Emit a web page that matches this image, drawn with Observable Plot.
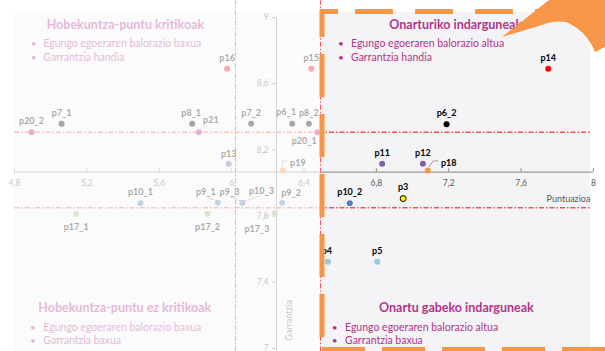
<!DOCTYPE html>
<html><head><meta charset="utf-8">
<script src="https://cdn.jsdelivr.net/npm/d3@7"></script>
<script src="https://cdn.jsdelivr.net/npm/@observablehq/plot@0.6"></script>
<style>
html,body{margin:0;padding:0;background:#fff;}
#chart{width:605px;height:351px;overflow:hidden;position:relative;}
#chart svg{display:block;}
</style></head><body><div id="chart"></div>
<script>
// ---- data ----
const names = ["p20_2","p7_1","p8_1","p21","p16","p7_2","p6_1","p8_2","p15","p20_1","p13","p19","p9_1","p9_3","p10_3","p9_2","p10_1","p17_1","p17_2","p17_3","p6_2","p11","p12","p18","p14","p10_2","p3","p4","p5"];
const puntuazioa = [4.894,5.06,5.782,5.819,5.975,6.108,6.335,6.427,6.44,6.473,5.984,6.283,5.924,6.06,6.06,6.279,5.496,5.141,5.867,6.239,7.188,6.832,7.057,7.084,7.75,6.653,6.948,6.532,6.805];
const garrantzia = [8.307,8.358,8.358,8.307,8.69,8.358,8.358,8.358,8.69,8.307,8.116,8.076,7.88,7.88,7.88,7.88,7.878,7.814,7.814,7.818,8.355,8.116,8.116,8.076,8.69,7.878,7.906,7.524,7.524];
const groups = ["g20","g678","g678","g20","g14","g678","g678","g678","g14","g20","g11","g18","g910","g910","g910","g910","g910","g17","g17","g17","g678","g11","g11","g18","g14","g910","g3","g45","g45"];
const groupNames = ["g20","g678","g14","g11","g18","g910","g17","g3","g45"];
const groupColors = ["#c2186f","#000000","#ff0000","#7f5fa8","#f79646","#4f81bd","#9bbb59","#ffff00","#92cddc"];
const xTicks = [4.8,5.2,5.6,6,6.4,6.8,7.2,7.6,8];
const yTicks = [7,7.4,7.8,8.2,8.6,9];
const xTickLabels = ["4,8","5,2","5,6","6","6,4","6,8","7,2","7,6","8"];
const yTickLabels = ["7","7,4","7,8","8,2","8,6","9"];
const axisCrossY = 8.066;   // horizontal axis crosses at
const axisCrossX = 6.248;   // vertical axis crosses at
const refX = [6.021, 6.491];
const refY = [8.307, 7.85];
const xTitle = "Puntuazioa";
const yTitle = "Garrantzia";
const quadTitles = ["Hobekuntza-puntu kritikoak","Onarturiko indarguneak","Hobekuntza-puntu ez kritikoak","Onartu gabeko indarguneak"];
const quadBullets = [
  ["Egungo egoeraren balorazio baxua","Garrantzia handia"],
  ["Egungo egoeraren balorazio altua","Garrantzia handia"],
  ["Egungo egoeraren balorazio baxua","Garrantzia baxua"],
  ["Egungo egoeraren balorazio altua","Garrantzia baxua"]
];

// ---- styling (label offsets in px) ----
const labelOffset = {
  p20_2:[0,-11],p7_1:[0,-11],p8_1:[-1,-11],p21:[12,-12],p16:[0,-11],p7_2:[0,-11],p6_1:[-6,-12],
  p8_2:[0,-11],p15:[0,-11],p20_1:[-13,9],p13:[0,-10],p19:[15,-7],p9_1:[-12,-11],p9_3:[-13,-11],
  p10_3:[19,-12],p9_2:[9,-10],p10_1:[0,-11],p17_1:[0,13],p17_2:[0,13],p17_3:[-18,16],p6_2:[0,-11],
  p11:[0,-11],p12:[0,-11],p18:[21,-7],p14:[0,-11],p10_2:[0,-11],p3:[0,-11],p4:[-1,-11],p5:[0,-11]
};
const leaders = {
  p21:[[2,-2],[8,-6]], p6_1:[[-1,-2],[-5,-7]], p19:[[0,-3],[0,-9],[5,-9]], p18:[[2,-3],[6,-9],[11,-9]],
  p9_1:[[-2,-2],[-9,-4]], p9_3:[[-1,-1],[-11,-5]], p10_3:[[2,-1],[19,-7]], p17_3:[[-3,2],[-8,5]]
};

const points = names.map((n,i)=>({name:n, x:puntuazioa[i], y:garrantzia[i], g:groups[i]}));
const FONT = "Lato, 'Open Sans', sans-serif";

const labelMarks = points.map(p => Plot.text([p], {
  x:"x", y:"y", text:"name", dx:labelOffset[p.name][0], dy:labelOffset[p.name][1],
  fontSize:9, fontWeight:"bold", fill:"#000", textAnchor:"middle"
}));

const chart = Plot.plot({
  width:605, height:351,
  marginLeft:14, marginRight:12, marginTop:17, marginBottom:3,
  x:{domain:[4.8,8], axis:null},
  y:{domain:[7,9], axis:null},
  color:{domain:groupNames, range:groupColors},
  style:{fontFamily:FONT, background:"transparent", overflow:"visible"},
  marks:[
    Plot.ruleX(refX, {x:d=>d, y1:6.98, y2:9.1, stroke:"#ff0000", strokeWidth:1, strokeDasharray:"5,2,1.5,2"}),
    Plot.ruleY(refY, {y:d=>d, x1:4.8, x2:7.985, stroke:"#ff0000", strokeWidth:1, strokeDasharray:"5,2,1.5,2"}),
    Plot.ruleY([axisCrossY], {x1:4.8, x2:8, stroke:"#868686", strokeWidth:1}),
    Plot.ruleX([axisCrossX], {y1:6.98, y2:9, stroke:"#868686", strokeWidth:1}),
    Plot.ruleX(xTicks, {x:d=>d, y1:axisCrossY, y2:axisCrossY+0.02, stroke:"#868686"}),
    Plot.ruleY(yTicks, {y:d=>d, x1:axisCrossX-0.022, x2:axisCrossX, stroke:"#868686"}),
    Plot.text(xTicks, {x:d=>d, y:axisCrossY, text:(d,i)=>xTickLabels[i], dy:11, fontSize:8.5, fill:"#595959"}),
    Plot.text(yTicks, {x:axisCrossX, y:d=>d, text:(d,i)=>yTickLabels[i], dx:-8, textAnchor:"end", fontSize:8.5, fill:"#595959"}),
    Plot.text([xTitle], {x:8, y:axisCrossY, text:d=>d, dx:-25, dy:27, fontSize:9, fill:"#595959"}),
    Plot.text([yTitle], {x:axisCrossX, y:7.17, text:d=>d, dx:13, rotate:-90, fontSize:9, fill:"#595959"}),
    Plot.dot(points, {x:"x", y:"y", r:3, fill:"g", stroke:d=>d.g==="g3"?"#000":"none", strokeWidth:1}),
    ...labelMarks
  ]
});

document.getElementById("chart").appendChild(chart);
const svg = d3.select(chart);
const sx = chart.scale("x"), sy = chart.scale("y");
const X = v => sx.apply(v), Y = v => sy.apply(v);

// plot-area background
svg.insert("rect", ":first-child")
  .attr("x", X(4.8)).attr("y", Y(9)-5).attr("width", X(8)-3-X(4.8)).attr("height", 351-(Y(9)-5))
  .attr("fill", "#f4f4f6");

// leader lines
const leaderG = svg.append("g").attr("fill","none").attr("stroke","#8c8c8c").attr("stroke-width",0.8);
points.forEach(p => {
  const L = leaders[p.name]; if (!L) return;
  const px = X(p.x), py = Y(p.y);
  leaderG.append("path").attr("d", "M" + L.map(o => (px+o[0])+","+(py+o[1])).join("L"));
});

// quadrant annotations
const quadLayout = [
  {tx:46.7, ty:29, bx:30.7, btx:43.3, by:[46.5,60.5]},
  {tx:389.3, ty:29, bx:338, btx:351, by:[46.5,60.5]},
  {tx:38.3, ty:312, bx:30, btx:43.3, by:[330.5,344]},
  {tx:379, ty:312, bx:331.7, btx:345, by:[330.5,344]}
];
function drawQuad(i){
  const L = quadLayout[i];
  const g = svg.append("g").attr("font-family", FONT).attr("fill", "#b5338a").attr("text-anchor","start");
  g.append("text").attr("x", L.tx).attr("y", L.ty).attr("font-size", 12.5).attr("font-weight", "bold").text(quadTitles[i]);
  quadBullets[i].forEach((b,j) => {
    g.append("text").attr("x", L.bx).attr("y", L.by[j]).attr("font-size", 10).text("•");
    g.append("text").attr("x", L.btx).attr("y", L.by[j]).attr("font-size", 10.5).text(b);
  });
}
drawQuad(0); drawQuad(2);

// fade overlay on the left part
svg.append("rect").attr("x", 0).attr("y", 0).attr("width", X(6.491)+0.5).attr("height", 351)
  .attr("fill", "#fff").attr("opacity", 0.65);

drawQuad(1); drawQuad(3);

// orange dashed frame
const OR = "#f79646";
const fr = svg.append("g").attr("fill","none").attr("stroke",OR).attr("stroke-width",5).attr("stroke-linecap","butt");
fr.append("path").attr("d","M338,11.5H322V37").attr("stroke-linejoin","miter");
fr.append("path").attr("d","M355,11.5H610").attr("stroke-dasharray","38,22");
fr.append("path").attr("d","M322,54V351").attr("stroke-dasharray","43,17");
fr.append("path").attr("d","M322,349.5H610").attr("stroke-dasharray","43,17");

// orange curved arrow
svg.append("path")
  .attr("d","M502,37 L549,0 L605,0 L605,47 L595,52 Q586,30 566,22 Q552,20 542,25 Z")
  .attr("fill", OR);
</script></body></html>
